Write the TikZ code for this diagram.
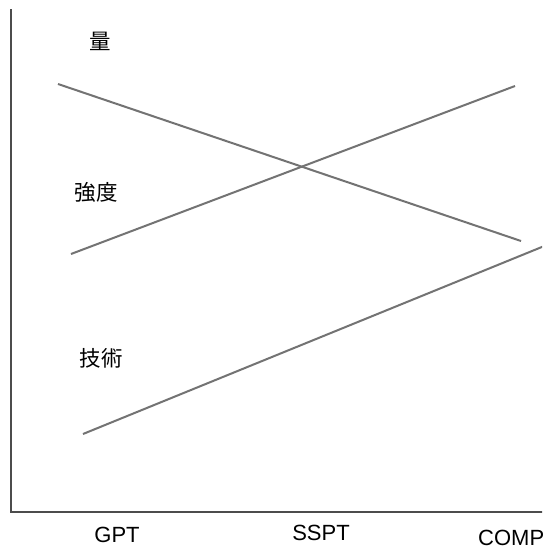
\documentclass[tikz,border=0pt]{standalone}
\usepackage{fontspec}
\setmainfont{Liberation Sans}
\newfontfamily\jpfont{Noto Sans CJK JP}
\usepackage{tikz}
\usetikzlibrary{calc}

\tikzset{
  trend/.style = {line width=2pt, color=black!55},
  axisline/.style = {line width=2.4pt, color=black!70},
  jplabel/.style = {font=\jpfont\fontsize{21.5}{24}\selectfont, inner sep=0pt},
  xlabel/.style = {font=\fontsize{22}{24}\selectfont, inner sep=0pt}
}

\begin{document}
\begin{tikzpicture}[x=1pt, y=-1pt]
\clip (0,0) rectangle (542,546);
\fill[white] (0,0) rectangle (542,546);

% axes
\draw [axisline] (11,9) -- (11,512) -- (545,512);

% trends
\draw [trend] (58,84) -- (521,241);
\draw [trend] (71,254) -- (515,86);
\draw [trend] (83,434) -- (560,239.6);

% labels
\node [jplabel] (ryo) at (100,41) {量};
\node [jplabel] (kyodo) at (96,192) {強度};
\node [jplabel] (gijutsu) at (101,358) {技術};

\node [xlabel] (gpt) at (117,535) {GPT};
\node [xlabel] (sspt) at (321,533) {SSPT};
\node [xlabel, anchor=base west] (comp) at (478,545) {COMP};

\end{tikzpicture}
\end{document}
